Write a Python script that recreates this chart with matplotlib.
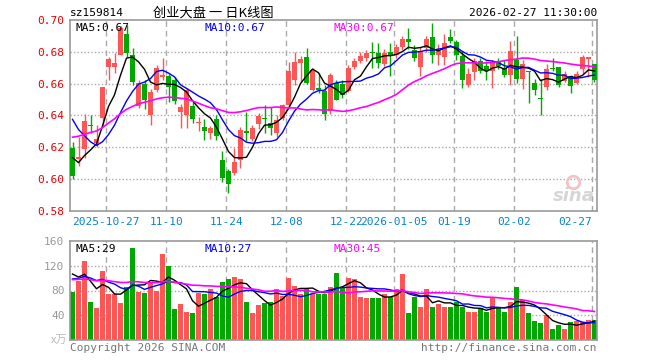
import numpy as np
import matplotlib
matplotlib.use("Agg")
import matplotlib.pyplot as plt
from matplotlib.transforms import blended_transform_factory

plt.rcParams['font.family'] = ['DejaVu Sans Mono', 'Noto Sans CJK SC']

# daily K data, 2025-10-17 .. 2026-02-27 (88 sessions)
opens = [0.6196, 0.6125, 0.6190, 0.6342, 0.6227, 0.6385, 0.6706, 0.6706, 0.6780, 0.6915,
         0.6780, 0.6460, 0.6600, 0.6400, 0.6560, 0.6645, 0.6650, 0.6625, 0.6425, 0.6405,
         0.6460, 0.6350, 0.6330, 0.6290, 0.6380, 0.6122, 0.6053, 0.6040, 0.6120, 0.6300,
         0.6255, 0.6345, 0.6386, 0.6356, 0.6290, 0.6386, 0.6469, 0.6621, 0.6730, 0.6767,
         0.6562, 0.6575, 0.6552, 0.6430, 0.6605, 0.6600, 0.6556, 0.6706, 0.6742, 0.6759,
         0.6796, 0.6794, 0.6723, 0.6800, 0.6780, 0.6832, 0.6878, 0.6813, 0.6706, 0.6824,
         0.6893, 0.6782, 0.6767, 0.6893, 0.6861, 0.6775, 0.6593, 0.6671, 0.6740, 0.6708,
         0.6677, 0.6740, 0.6698, 0.6656, 0.6750, 0.6631, 0.6680, 0.6604, 0.6510, 0.6579,
         0.6696, 0.6704, 0.6619, 0.6646, 0.6604, 0.6694, 0.6758, 0.6723]
highs = [0.6233, 0.6265, 0.6410, 0.6400, 0.6338, 0.6580, 0.6765, 0.6790, 0.6960, 0.6970,
         0.6826, 0.6620, 0.6625, 0.6567, 0.6720, 0.6760, 0.6660, 0.6640, 0.6475, 0.6575,
         0.6490, 0.6393, 0.6380, 0.6335, 0.6400, 0.6179, 0.6065, 0.6196, 0.6330, 0.6420,
         0.6340, 0.6415, 0.6465, 0.6456, 0.6400, 0.6475, 0.6738, 0.6800, 0.6773, 0.6823,
         0.6700, 0.6667, 0.6590, 0.6670, 0.6620, 0.6623, 0.6717, 0.6760, 0.6800, 0.6810,
         0.6860, 0.6853, 0.6815, 0.6853, 0.6850, 0.6900, 0.6947, 0.6840, 0.6830, 0.6900,
         0.6980, 0.6850, 0.6915, 0.6945, 0.6875, 0.6803, 0.6700, 0.6760, 0.6760, 0.6740,
         0.6750, 0.6760, 0.6750, 0.6865, 0.6897, 0.6750, 0.6680, 0.6629, 0.6629, 0.6723,
         0.6761, 0.6704, 0.6680, 0.6655, 0.6680, 0.6782, 0.6770, 0.6723]
lows = [0.6004, 0.6085, 0.6135, 0.6290, 0.6202, 0.6340, 0.6620, 0.6670, 0.6780, 0.6770,
        0.6590, 0.6450, 0.6440, 0.6338, 0.6550, 0.6620, 0.6487, 0.6475, 0.6320, 0.6320,
        0.6350, 0.6300, 0.6245, 0.6255, 0.6245, 0.5980, 0.5915, 0.6026, 0.6068, 0.6240,
        0.6240, 0.6315, 0.6287, 0.6277, 0.6267, 0.6370, 0.6455, 0.6592, 0.6610, 0.6599,
        0.6555, 0.6540, 0.6371, 0.6410, 0.6495, 0.6510, 0.6550, 0.6690, 0.6730, 0.6740,
        0.6700, 0.6700, 0.6710, 0.6650, 0.6760, 0.6810, 0.6815, 0.6745, 0.6650, 0.6800,
        0.6730, 0.6720, 0.6720, 0.6855, 0.6750, 0.6573, 0.6582, 0.6625, 0.6670, 0.6625,
        0.6573, 0.6690, 0.6640, 0.6593, 0.6604, 0.6566, 0.6477, 0.6526, 0.6405, 0.6562,
        0.6677, 0.6580, 0.6610, 0.6541, 0.6600, 0.6658, 0.6640, 0.6610]
closes = [0.6019, 0.6140, 0.6365, 0.6332, 0.6254, 0.6578, 0.6755, 0.6730, 0.6950, 0.6790,
          0.6610, 0.6605, 0.6497, 0.6550, 0.6700, 0.6655, 0.6580, 0.6490, 0.6455, 0.6560,
          0.6380, 0.6360, 0.6300, 0.6320, 0.6270, 0.6007, 0.5971, 0.6108, 0.6310, 0.6293,
          0.6320, 0.6395, 0.6378, 0.6323, 0.6370, 0.6469, 0.6678, 0.6736, 0.6752, 0.6606,
          0.6687, 0.6562, 0.6412, 0.6655, 0.6500, 0.6530, 0.6696, 0.6742, 0.6773, 0.6790,
          0.6790, 0.6727, 0.6794, 0.6780, 0.6828, 0.6880, 0.6863, 0.6760, 0.6803, 0.6882,
          0.6782, 0.6803, 0.6855, 0.6865, 0.6782, 0.6625, 0.6660, 0.6740, 0.6677, 0.6681,
          0.6730, 0.6708, 0.6656, 0.6803, 0.6631, 0.6723, 0.6675, 0.6562, 0.6505, 0.6694,
          0.6692, 0.6593, 0.6660, 0.6583, 0.6660, 0.6765, 0.6765, 0.6625]
volumes = [78, 96, 128, 61, 51, 112, 74, 74, 59, 85,
           149, 77, 76, 94, 80, 139, 120, 50, 58, 46,
           43, 76, 74, 83, 69, 93, 99, 102, 99, 62,
           43, 56, 59, 62, 83, 71, 101, 87, 75, 83,
           74, 75, 75, 86, 109, 85, 101, 98, 69, 68,
           68, 68, 74, 70, 83, 107, 43, 69, 53, 83,
           53, 58, 53, 53, 62, 53, 45, 45, 51, 46,
           68, 51, 45, 61, 85, 64, 43, 30, 27, 40,
           18, 24, 18, 29, 30, 29, 32, 32]

# sessions before the window, only feed the moving averages
prev_closes = [0.596, 0.598, 0.601, 0.597, 0.594, 0.590, 0.593, 0.596, 0.600, 0.605,
               0.612, 0.620, 0.628, 0.635, 0.642, 0.648, 0.655, 0.660, 0.668, 0.677,
               0.678, 0.675, 0.672, 0.648, 0.635, 0.630, 0.614, 0.616, 0.606]
prev_volumes = [88, 104, 92, 110, 85, 97, 120, 95, 88, 101,
                93, 108, 99, 84, 96, 102, 90, 105, 92, 93,
                85, 96, 88, 92, 92, 120, 105, 118, 112]

date_idx = [6, 16, 26, 36, 46, 54, 64, 74, 87]
date_labels = ['2025-10-27', '11-10', '11-24', '12-08', '12-22',
               '2026-01-05', '01-19', '02-02', '02-27']
price_ticks = [0.58, 0.60, 0.62, 0.64, 0.66, 0.68, 0.70]
vol_ticks = [40, 80, 120, 160]
price_legend = ['MA5:0.67', 'MA10:0.67', 'MA30:0.67']
vol_legend = ['MA5:29', 'MA10:27', 'MA30:45']

RED = '#ff5555'
GREEN = '#00a800'
GRID = '#aaaaaa'
BLUE_TXT = '#0a82d2'
MA_COLORS = ['black', '#0000ff', '#ff00ff']


def moving_avg(prev, vals, n):
    s = np.array(list(prev) + list(vals), dtype=float)
    out = np.convolve(s, np.ones(n) / n, mode='valid')
    return out[-len(vals):]


o = np.array(opens)
h = np.array(highs)
l = np.array(lows)
c = np.array(closes)
v = np.array(volumes, dtype=float)
x = np.arange(len(c))
up = c >= o
cols = np.where(up, RED, GREEN)

fig = plt.figure(figsize=(6.6, 3.6), dpi=100)
ax = fig.add_axes([70 / 660, 1 - 211 / 360, 527 / 660, 191 / 360])
axv = fig.add_axes([70 / 660, 1 - 340 / 360, 527 / 660, 99 / 360])

xlim = (-2.5 / 6, len(c) - 1 + 2.5 / 6)
for a in (ax, axv):
    a.set_xlim(*xlim)
    for s in a.spines.values():
        s.set_color('#999999')
        s.set_linewidth(1.2)
    a.set_xticks([])
    a.tick_params(axis='y', length=0, pad=4)
    for i in date_idx:
        a.axvline(i - 0.4, color=GRID, ls=(0, (4, 3)), lw=1, zorder=0)

# price panel
ax.set_ylim(0.58, 0.70)
ax.set_yticks(price_ticks)
ax.set_yticklabels(['%.2f' % t for t in price_ticks], color='#ee0000', fontsize=8)
for t in price_ticks[1:-1]:
    ax.axhline(t, color=GRID, ls=(0, (1, 1.5)), lw=1, zorder=0)

ax.vlines(x, l, h, colors=cols, lw=1, zorder=2)
body = np.maximum(np.abs(c - o), 0.0006)
ax.bar(x, body, bottom=np.minimum(o, c), width=0.83, color=cols,
       linewidth=0, antialiased=False, zorder=3)

for n, col, lw in zip([5, 10, 30], MA_COLORS, [1, 1, 1.2]):
    ax.plot(x, moving_avg(prev_closes, closes, n), color=col, lw=lw, zorder=4)

tr = ax.transAxes
for xp, txt, col in zip([0.01, 0.255, 0.50], price_legend, MA_COLORS):
    ax.text(xp, 0.985, txt, transform=tr, va='top', fontsize=8, color=col)

# sina watermark
ax.plot([0.955], [0.15], transform=tr, marker='o', ms=9, mfc='none', mec='#f3c4c4', mew=2)
ax.text(0.995, 0.03, 'sina', transform=tr, ha='right', va='bottom', fontsize=13,
        color='#cccccc', style='italic', fontweight='bold', family='DejaVu Sans', alpha=0.8)

bt = blended_transform_factory(ax.transData, ax.transAxes)
for i, lab in zip(date_idx, date_labels):
    ha = 'right' if i == date_idx[-1] else 'center'
    ax.text(i - 0.4, -0.055, lab, transform=bt, ha=ha, va='center',
            fontsize=8, color=BLUE_TXT, clip_on=False)

# volume panel
axv.set_ylim(0, 160)
axv.set_yticks(vol_ticks)
axv.set_yticklabels([str(t) for t in vol_ticks], color='#999999', fontsize=8)
for t in vol_ticks[:-1]:
    axv.axhline(t, color=GRID, ls=(0, (1, 1.5)), lw=1, zorder=0)
axv.bar(x, v, width=0.83, color=cols, linewidth=0, antialiased=False, zorder=2)
for n, col, lw in zip([5, 10, 30], MA_COLORS, [1, 1, 1.2]):
    axv.plot(x, moving_avg(prev_volumes, volumes, n), color=col, lw=lw, zorder=4)

trv = axv.transAxes
for xp, txt, col in zip([0.01, 0.255, 0.50], vol_legend, MA_COLORS):
    axv.text(xp, 0.97, txt, transform=trv, va='top', fontsize=8, color=col)
axv.text(-0.005, 0.0, 'x万', transform=trv, ha='right', va='center', fontsize=8,
         color='#bbbbbb', family=['Noto Sans CJK SC', 'DejaVu Sans'])

# header / footer
fig.text(70 / 660, 1 - 13 / 360, 'sz159814', fontsize=8, va='center', color='black')
fig.text(213 / 660, 1 - 13 / 360, '创业大盘 一 日K线图', fontsize=9.5, va='center', ha='center',
         color='black', family=['Noto Sans CJK SC', 'DejaVu Sans'])
fig.text(597 / 660, 1 - 13 / 360, '2026-02-27 11:30:00', fontsize=8, va='center', ha='right', color='black')
fig.text(70 / 660, 1 - 348 / 360, 'Copyright 2026 SINA.COM', fontsize=8, va='center', color='#777777')
fig.text(597 / 660, 1 - 348 / 360, 'http://finance.sina.com.cn', fontsize=8, va='center', ha='right', color='#777777')

fig.savefig('out.png', dpi=100)
